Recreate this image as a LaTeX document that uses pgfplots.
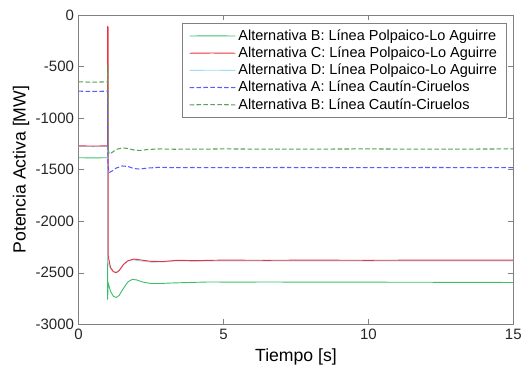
\documentclass[border=0pt]{standalone}
\usepackage{pgfplots}
\pgfplotsset{compat=1.18}
\usepackage{fontspec}
\setmainfont{Liberation Sans}
\definecolor{cB}{RGB}{60,190,110}
\definecolor{cC}{RGB}{235,50,60}
\definecolor{cD}{RGB}{160,220,245}
\definecolor{cA2}{RGB}{90,90,255}
\definecolor{cB2}{RGB}{90,160,90}
\pgfplotsset{
  longlegend/.style={legend image code/.code={\draw[##1] (0pt,0pt) -- (17pt,0.15pt) -- (35pt,0pt);}},
  mydash/.style={dash pattern=on 3.5pt off 1.8pt, line width=0.8pt},
}
\begin{document}
\begin{tikzpicture}
\begin{axis}[
  scale only axis,
  width=333pt, height=237pt,
  xmin=0, xmax=15, ymin=-3000, ymax=0,
  xtick={0,5,10,15}, ytick={-3000,-2500,-2000,-1500,-1000,-500,0},
  /pgf/number format/assume math mode=true,
  /pgf/number format/set thousands separator={},
  ticklabel style={font=\fontsize{11.5}{13}\selectfont, text=black!85},
  tick align=inside, tick style={black!50},
  axis line style={black!50},
  xlabel={Tiempo [s]}, ylabel={Potencia Activa [MW]},
  label style={font=\fontsize{13.5}{15}\selectfont},
  xlabel style={yshift=0pt},
  ylabel style={yshift=-2pt},
  every axis plot/.append style={line width=0.7pt},
  legend style={at={(0.984,0.974)}, anchor=north east, font=\fontsize{11.1}{12}\selectfont, draw=black!50, row sep=-0.5pt, inner xsep=5pt, inner ysep=3pt},
  legend cell align=left,
  longlegend,
]
\addplot[cB] coordinates {(0,-1385) (0.5,-1387) (1,-1385) (1,-2520) (1.001,-2760) (1.02,-2600) (1.1,-2680) (1.2,-2730) (1.3,-2740) (1.4,-2720) (1.55,-2650) (1.7,-2590) (1.85,-2565) (2.0,-2570) (2.2,-2590) (2.5,-2605) (2.8,-2605) (3.2,-2600) (3.8,-2595) (4.5,-2590) (5.5,-2592) (6.5,-2590) (8,-2592) (10,-2592) (12,-2593) (15,-2595)};
\addlegendentry{Alternativa B: Línea Polpaico-Lo Aguirre}
\addplot[cD, forget plot] coordinates {(0,-1275) (0.5,-1277) (1,-1275) (1,-2330) (1.01,-2400) (1.1,-2460) (1.2,-2490) (1.3,-2495) (1.4,-2475) (1.55,-2420) (1.7,-2385) (1.9,-2375) (2.1,-2385) (2.5,-2398) (2.9,-2395) (3.4,-2385) (4,-2388) (5,-2385) (6.5,-2385) (8,-2386) (10,-2385) (12,-2386) (15,-2386)};
\addplot[cC] coordinates {(0,-1270) (0.5,-1272) (1,-1270) (1,-115) (1.02,-120) (1.02,-2330) (1.05,-2380) (1.1,-2450) (1.2,-2490) (1.3,-2500) (1.4,-2480) (1.55,-2420) (1.7,-2385) (1.9,-2368) (2.1,-2375) (2.5,-2390) (2.9,-2392) (3.4,-2380) (4,-2383) (5,-2378) (6.5,-2380) (8,-2378) (10,-2380) (12,-2378) (15,-2378)};
\addlegendentry{Alternativa C: Línea Polpaico-Lo Aguirre}
\addlegendimage{cD, line width=0.7pt}
\addlegendentry{Alternativa D: Línea Polpaico-Lo Aguirre}
\addplot[cA2, mydash] coordinates {(0,-740) (0.5,-742) (1,-740) (1.01,-1450) (1.05,-1530) (1.15,-1515) (1.3,-1485) (1.5,-1465) (1.7,-1470) (1.9,-1490) (2.1,-1495) (2.4,-1485) (2.8,-1478) (3.3,-1482) (4,-1480) (5,-1482) (7,-1480) (10,-1482) (12,-1480) (15,-1481)};
\addlegendentry{Alternativa A: Línea Cautín-Ciruelos}
\addplot[cB2, mydash] coordinates {(0,-650) (0.5,-652) (1,-650) (1.01,-480) (1.02,-1300) (1.05,-1350) (1.15,-1335) (1.3,-1305) (1.5,-1290) (1.7,-1295) (1.9,-1310) (2.1,-1315) (2.4,-1305) (2.8,-1300) (3.3,-1303) (4,-1302) (5,-1300) (7,-1302) (10,-1300) (12,-1302) (15,-1300)};
\addlegendentry{Alternativa B: Línea Cautín-Ciruelos}
\end{axis}
\path (current bounding box.west) ++(-6.5pt,0pt);
\path (current bounding box.north) ++(0pt,4pt);
\end{tikzpicture}
\end{document}
